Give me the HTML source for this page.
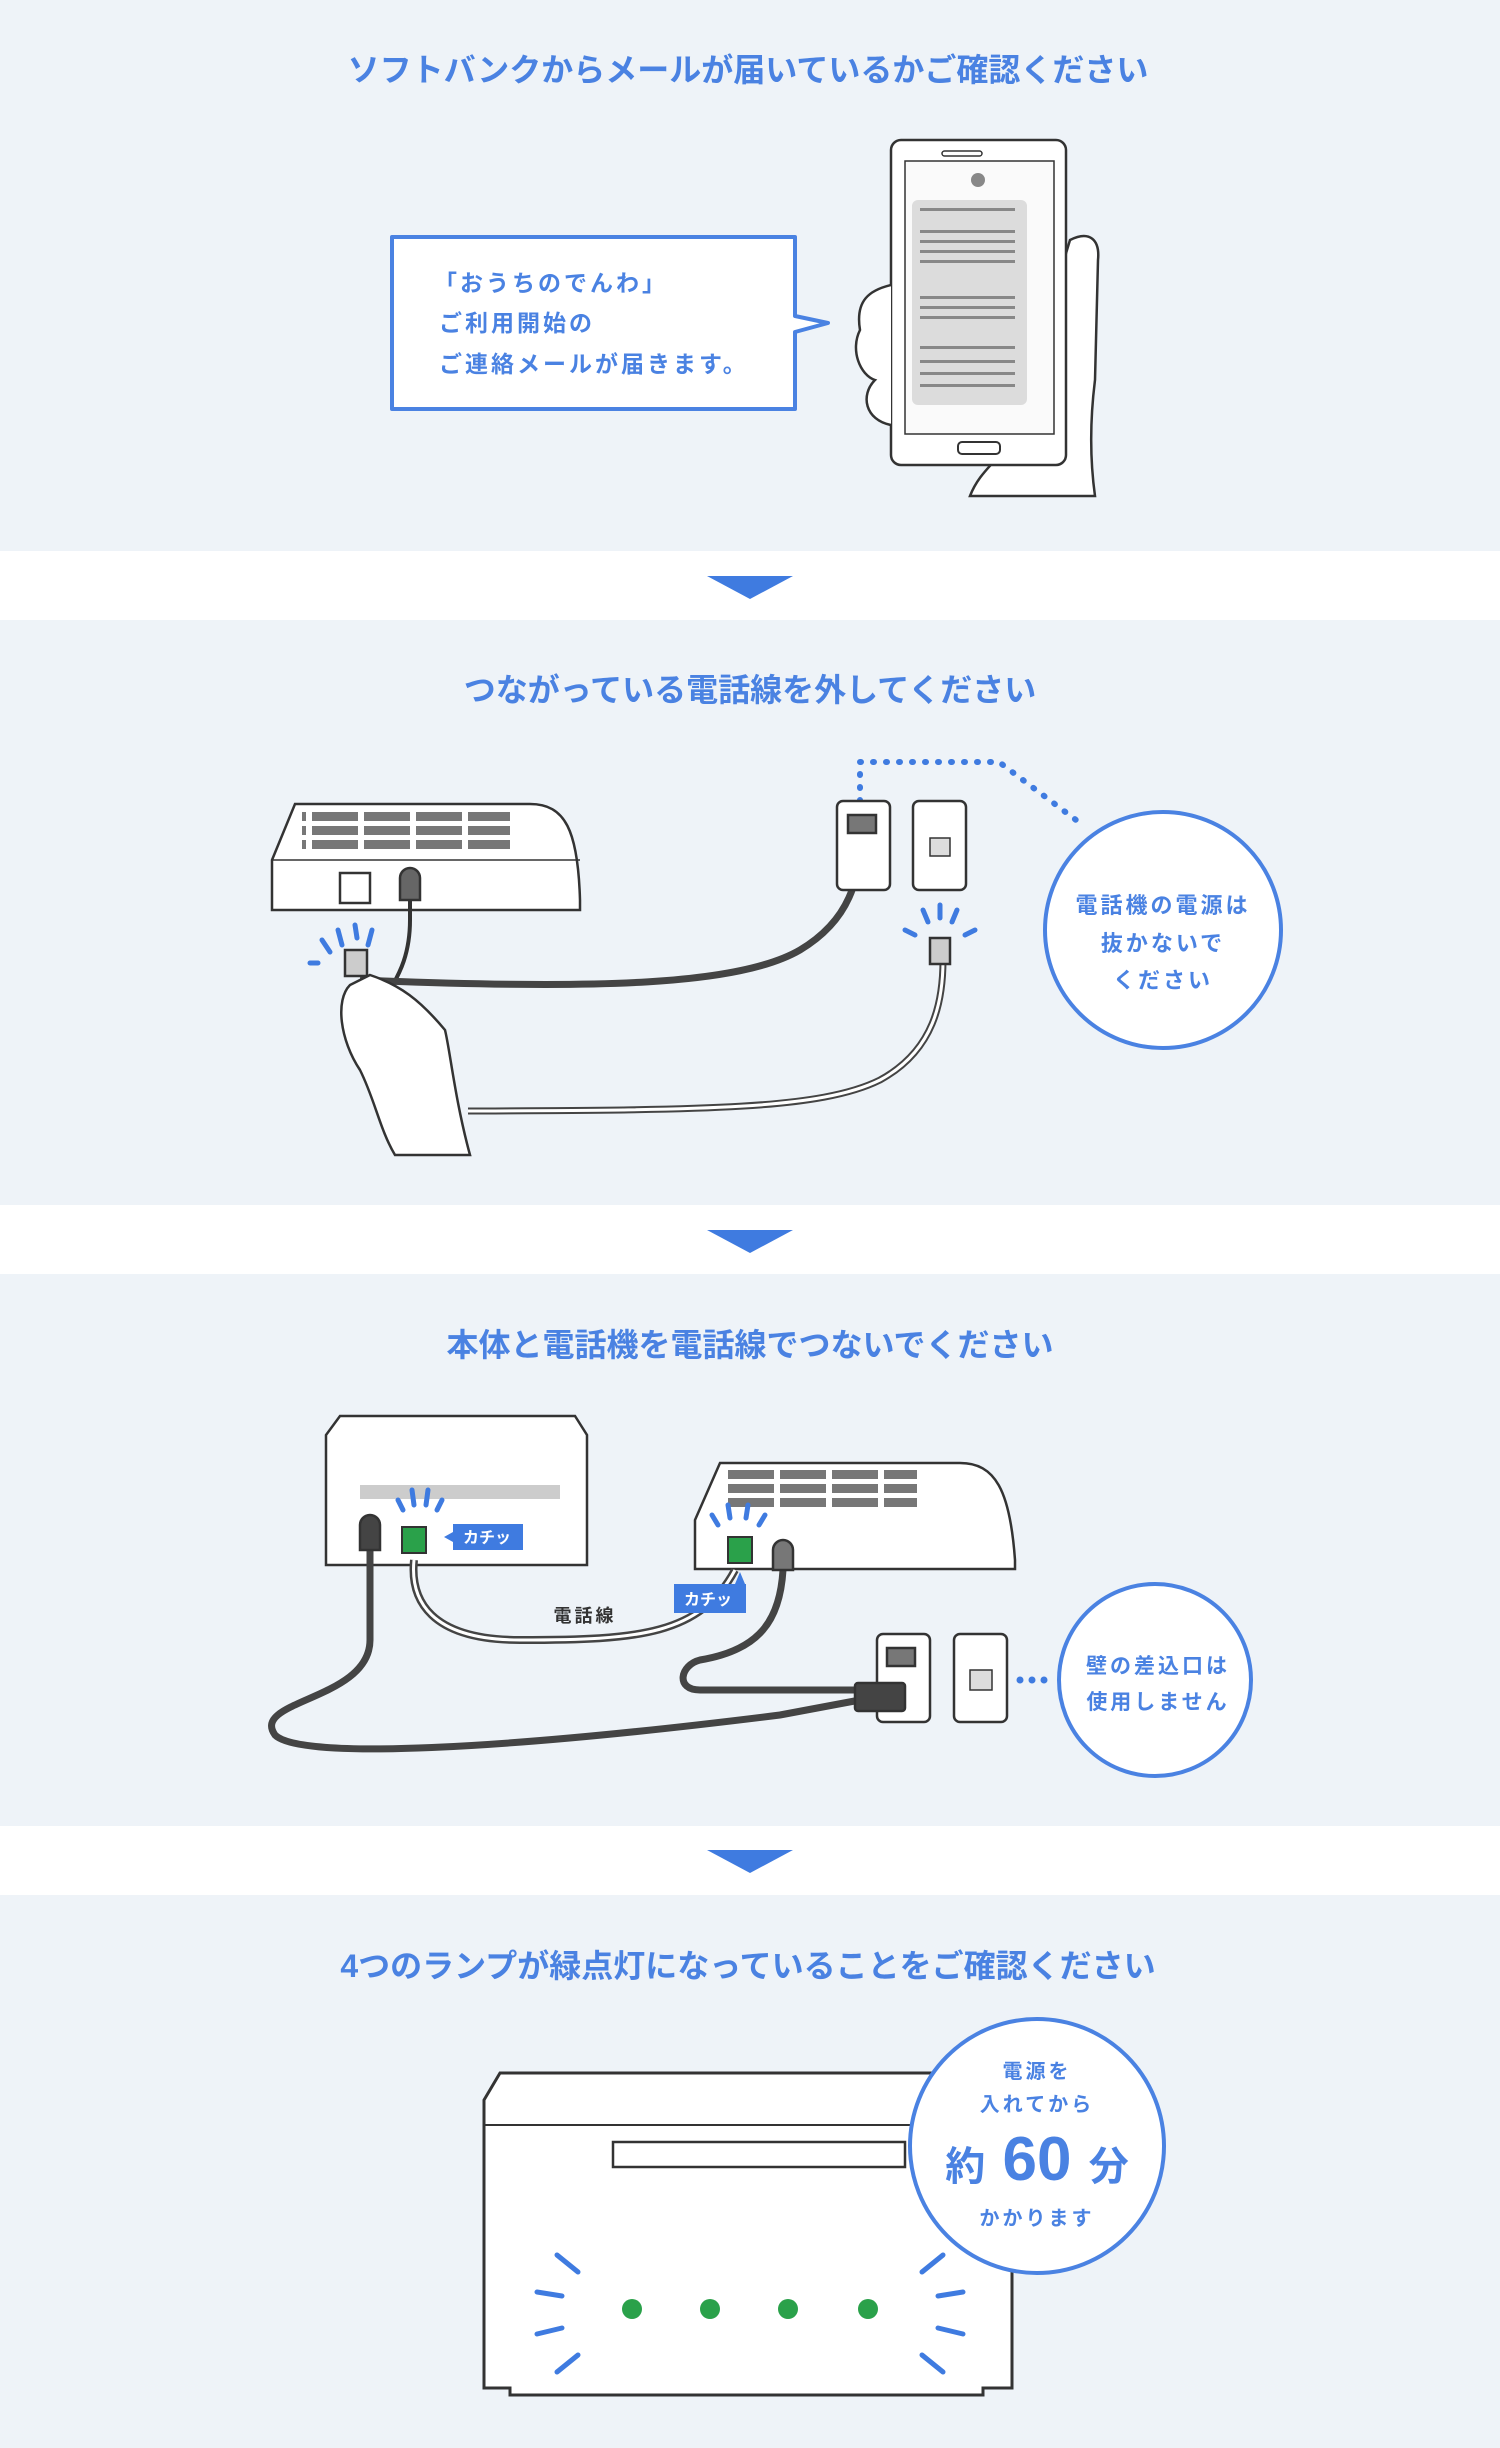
<!DOCTYPE html>
<html><head><meta charset="utf-8"><style>
html,body{margin:0;padding:0;background:#fff}
svg{display:block}
text{font-family:"Liberation Sans","Noto Sans CJK JP",sans-serif;font-weight:bold}
</style></head><body>
<svg width="1500" height="2448" viewBox="0 0 1500 2448" xmlns="http://www.w3.org/2000/svg">
<defs>
<pattern id="kp" x="0" y="0" width="52" height="14" patternUnits="userSpaceOnUse"><rect x="0" y="0" width="46" height="9" fill="#777"/></pattern>
</defs>
<rect x="0" y="0" width="1500" height="2448" fill="#fff"/>
<rect x="0" y="0" width="1500" height="551" fill="#eef3f8"/>
<rect x="0" y="620" width="1500" height="585" fill="#eef3f8"/>
<rect x="0" y="1274" width="1500" height="552" fill="#eef3f8"/>
<rect x="0" y="1895" width="1500" height="553" fill="#eef3f8"/>
<g fill="#3f7be0">
<polygon points="707,576 793,576 750,599"/>
<polygon points="707,1230 793,1230 750,1253"/>
<polygon points="707,1850 793,1850 750,1873"/>
</g>
<g fill="#4a82e2" font-size="32" text-anchor="middle">
<text x="748" y="81">ソフトバンクからメールが届いているかご確認ください</text>
<text x="750" y="701">つながっている電話線を外してください</text>
<text x="750" y="1356">本体と電話機を電話線でつないでください</text>
<text x="748" y="1977">4つのランプが緑点灯になっていることをご確認ください</text>
</g>

<!-- Section 1 -->
<path d="M392,237 H795 V316 L828,323 L795,332 V409 H392 Z" fill="#fff" stroke="#4a82e2" stroke-width="4" stroke-linejoin="round"/>
<g fill="#4a82e2" font-size="23" letter-spacing="3">
<text x="434" y="291">「おうちのでんわ」</text>
<text x="439" y="331">ご利用開始の</text>
<text x="439" y="372">ご連絡メールが届きます。</text>
</g>
<g stroke="#333" stroke-width="2.5" fill="#fff">
<path d="M1070,240 C1090,230 1100,240 1098,260 L1095,380 C1090,420 1090,460 1095,496 L970,496 C980,470 1000,460 1010,440 Z"/>
<rect x="891" y="140" width="175" height="325" rx="10"/>
<rect x="905" y="161" width="149" height="273" fill="#fafafa" stroke-width="1.5"/>
<path d="M891,285 C870,290 855,300 860,330 C850,350 860,375 875,380 C860,395 865,420 891,425" />
</g>
<rect x="912" y="200" width="115" height="205" rx="6" fill="#dcdcdc"/>
<g fill="#888">
<rect x="920" y="208" width="95" height="3"/><rect x="920" y="230" width="95" height="3"/><rect x="920" y="240" width="95" height="3"/><rect x="920" y="250" width="95" height="3"/><rect x="920" y="260" width="95" height="3"/><rect x="920" y="296" width="95" height="3"/><rect x="920" y="306" width="95" height="3"/><rect x="920" y="316" width="95" height="3"/><rect x="920" y="346" width="95" height="3"/><rect x="920" y="360" width="95" height="3"/><rect x="920" y="372" width="95" height="3"/><rect x="920" y="384" width="95" height="3"/>
</g>
<rect x="942" y="151" width="40" height="5" rx="2.5" fill="none" stroke="#333" stroke-width="1.5"/>
<rect x="958" y="442" width="42" height="12" rx="4" fill="none" stroke="#333" stroke-width="2"/>
<circle cx="978" cy="180" r="7" fill="#888"/>

<!-- Section 2 -->
<path d="M860,827 V762 H999 L1080,823" fill="none" stroke="#3f7be0" stroke-width="6" stroke-dasharray="1 12" stroke-linecap="round"/>
<circle cx="1163" cy="930" r="118" fill="#fff" stroke="#4a82e2" stroke-width="4"/>
<g fill="#4a82e2" font-size="22" text-anchor="middle" letter-spacing="3">
<text x="1163" y="913">電話機の電源は</text>
<text x="1163" y="951">抜かないで</text>
<text x="1163" y="988">ください</text>
</g>
<g stroke="#333" stroke-width="2.5">
<path d="M295,804 H530 C565,804 578,830 580,900 V910 H272 V860 Z" fill="#fff"/>
<line x1="272" y1="860" x2="580" y2="860" stroke-width="1.5"/>
<rect x="340" y="873" width="30" height="30" fill="#fff"/>
<path d="M400,878 a10,10 0 0 1 20,0 V900 h-20Z" fill="#666"/>
<path d="M410,900 V920 C410,960 395,980 390,990" fill="none" stroke-width="4"/>
<path d="M360,980 C600,990 740,985 800,950 C850,920 860,880 862,830" fill="none" stroke="#444" stroke-width="7"/>
<path d="M468,1111 C700,1110 820,1110 880,1080 C935,1050 943,1000 943,960" fill="none" stroke="#444" stroke-width="7"/>
<path d="M468,1111 C700,1110 820,1110 880,1080 C935,1050 943,1000 943,960" fill="none" stroke="#fff" stroke-width="3"/>
<rect x="837" y="801" width="53" height="89" rx="6" fill="#fff"/>
<rect x="913" y="801" width="53" height="89" rx="6" fill="#fff"/>
<rect x="848" y="815" width="28" height="18" fill="#777"/>
<rect x="930" y="838" width="20" height="18" fill="#ddd" stroke-width="1.5"/>
<rect x="930" y="938" width="20" height="26" fill="#ccc"/>
<rect x="345" y="950" width="22" height="26" fill="#ccc"/>
<path d="M350,985 C335,1000 340,1040 360,1070 C375,1100 380,1130 395,1155 L470,1155 C455,1100 450,1050 445,1030 C420,1000 400,985 370,975 Z" fill="#fff"/>
</g>
<rect x="302" y="808" width="208" height="42" fill="url(#kp)"/>
<g stroke="#3f7be0" stroke-width="5" stroke-linecap="round">
<line x1="355" y1="925" x2="357" y2="938"/><line x1="338" y1="930" x2="342" y2="945"/><line x1="322" y1="940" x2="330" y2="952"/><line x1="372" y1="930" x2="368" y2="945"/><line x1="310" y1="963" x2="318" y2="963"/>
<line x1="940" y1="905" x2="940" y2="918"/><line x1="923" y1="910" x2="928" y2="922"/><line x1="957" y1="910" x2="952" y2="922"/><line x1="905" y1="930" x2="915" y2="935"/><line x1="975" y1="930" x2="965" y2="935"/>
</g>

<!-- Section 3 -->
<circle cx="1155" cy="1680" r="96" fill="#fff" stroke="#4a82e2" stroke-width="4"/>
<g fill="#4a82e2" font-size="21" text-anchor="middle" letter-spacing="3">
<text x="1158" y="1673">壁の差込口は</text>
<text x="1158" y="1709">使用しません</text>
</g>
<g fill="#3f7be0"><circle cx="1020" cy="1680" r="3.5"/><circle cx="1032" cy="1680" r="3.5"/><circle cx="1044" cy="1680" r="3.5"/></g>
<g stroke="#333" stroke-width="2.5">
<path d="M340,1416 H575 L587,1435 V1565 H326 V1435 Z" fill="#fff"/>
<path d="M720,1463 H960 C995,1463 1010,1490 1015,1560 V1569 H695 V1520 Z" fill="#fff"/>
<path d="M370,1540 V1640 C370,1700 250,1700 275,1735 C300,1760 500,1750 780,1715 L860,1700" fill="none" stroke="#444" stroke-width="7"/>
<path d="M414,1560 C410,1600 430,1640 520,1640 C640,1640 700,1635 735,1570" fill="none" stroke="#444" stroke-width="8"/>
<path d="M414,1560 C410,1600 430,1640 520,1640 C640,1640 700,1635 735,1570" fill="none" stroke="#fff" stroke-width="3"/>
<path d="M783,1570 C780,1620 760,1650 700,1660 C680,1665 675,1690 700,1690 H900 V1660" fill="none" stroke="#444" stroke-width="7"/>
<rect x="877" y="1634" width="53" height="88" rx="6" fill="#fff"/>
<rect x="954" y="1634" width="53" height="88" rx="6" fill="#fff"/>
<rect x="887" y="1648" width="28" height="18" fill="#777"/>
<rect x="970" y="1670" width="22" height="20" fill="#ddd" stroke-width="1.5"/>
<rect x="855" y="1683" width="50" height="28" rx="3" fill="#444"/>
<path d="M360,1525 a10,10 0 0 1 20,0 V1550 h-20Z" fill="#444"/>
<path d="M773,1550 a10,10 0 0 1 20,0 V1570 h-20Z" fill="#777"/>
</g>
<g fill="#ccc">
<rect x="360" y="1485" width="200" height="14"/>
</g>
<rect x="727" y="1468" width="190" height="42" fill="url(#kp)"/>
<rect x="402" y="1527" width="24" height="26" fill="#2aa14a" stroke="#333" stroke-width="2"/>
<rect x="728" y="1537" width="24" height="26" fill="#2aa14a" stroke="#333" stroke-width="2"/>
<g stroke="#3f7be0" stroke-width="5" stroke-linecap="round">
<line x1="398" y1="1500" x2="403" y2="1510"/><line x1="412" y1="1490" x2="414" y2="1505"/><line x1="428" y1="1490" x2="426" y2="1505"/><line x1="442" y1="1500" x2="437" y2="1510"/>
<line x1="712" y1="1515" x2="718" y2="1525"/><line x1="728" y1="1505" x2="730" y2="1518"/><line x1="748" y1="1505" x2="746" y2="1518"/><line x1="765" y1="1515" x2="759" y2="1525"/>
</g>
<path d="M453,1524 H523 V1550 H453 V1542 L444,1537 L453,1532 Z" fill="#3f7be0"/>
<path d="M674,1584 H746 V1613 H674 Z M735,1584 L740,1572 L745,1584Z" fill="#3f7be0"/>
<g fill="#fff" font-size="16"><text x="463" y="1543">カチッ</text><text x="684" y="1605">カチッ</text></g>
<text x="585" y="1622" font-size="18" fill="#333" text-anchor="middle" letter-spacing="3">電話線</text>

<!-- Section 4 -->
<path d="M500,2073 H1012 V2388 H983 V2395 H510 V2388 H484 V2100 Z" fill="#fff" stroke="#333" stroke-width="3"/>
<line x1="484" y1="2125" x2="1012" y2="2125" stroke="#333" stroke-width="2"/>
<path d="M613,2142 H905 V2167 H613 Z" fill="#fff" stroke="#333" stroke-width="2.5"/>
<g fill="#2aa14a"><circle cx="632" cy="2309" r="10"/><circle cx="710" cy="2309" r="10"/><circle cx="788" cy="2309" r="10"/><circle cx="868" cy="2309" r="10"/></g>
<g stroke="#3f7be0" stroke-width="5" stroke-linecap="round">
<line x1="557" y1="2255" x2="578" y2="2272"/><line x1="537" y1="2292" x2="562" y2="2296"/><line x1="537" y1="2334" x2="562" y2="2328"/><line x1="557" y1="2372" x2="578" y2="2355"/>
<line x1="943" y1="2255" x2="922" y2="2272"/><line x1="963" y1="2292" x2="938" y2="2296"/><line x1="963" y1="2334" x2="938" y2="2328"/><line x1="943" y1="2372" x2="922" y2="2355"/>
</g>
<circle cx="1037" cy="2146" r="127" fill="#fff" stroke="#4a82e2" stroke-width="4"/>
<g fill="#4a82e2" text-anchor="middle">
<text x="1037" y="2078" font-size="20" letter-spacing="3">電源を</text>
<text x="1037" y="2111" font-size="20" letter-spacing="3">入れてから</text>
<text x="1037" y="2180" font-size="40"><tspan>約</tspan><tspan font-size="62"> 60 </tspan><tspan>分</tspan></text>
<text x="1037" y="2225" font-size="20" letter-spacing="3">かかります</text>
</g>
</svg>
</body></html>
